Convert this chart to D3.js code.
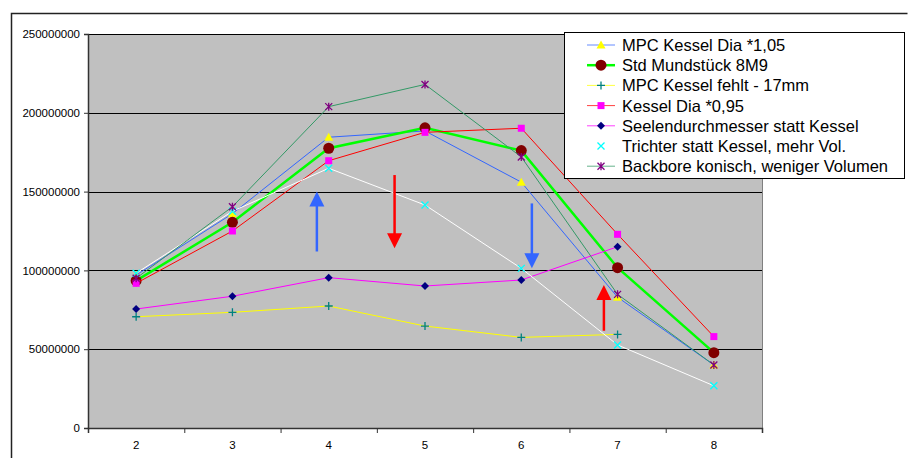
<!DOCTYPE html>
<html>
<head>
<meta charset="utf-8">
<script src="https://cdn.jsdelivr.net/npm/d3@7"></script>
<style>
body { margin: 0; background: #fff; }
svg { display: block; font-family: Arial, "Liberation Sans", sans-serif; }
</style>
</head>
<body>
<div id="chart"></div>
<script>
var categories = ['2', '3', '4', '5', '6', '7', '8'];
var yTicks = [0, 50000000, 100000000, 150000000, 200000000, 250000000];

var seriesNames = [
    'MPC Kessel Dia *1,05',
    'Std Mundstück 8M9',
    'MPC Kessel fehlt - 17mm',
    'Kessel Dia *0,95',
    'Seelendurchmesser statt Kessel',
    'Trichter statt Kessel, mehr Vol.',
    'Backbore konisch, weniger Volumen'
];

var mpcDia105 = [97000000, 136000000, 184500000, 188500000, 156000000, 83000000, 40000000];
var stdMundstueck = [93500000, 130500000, 177500000, 190500000, 176000000, 101700000, 47800000];
var mpcFehlt = [70600000, 73400000, 77400000, 64700000, 57500000, 59400000, null];
var kesselDia095 = [91800000, 125000000, 169600000, 187600000, 190200000, 122900000, 58000000];
var seelen = [75500000, 83600000, 95400000, 90100000, 93900000, 115000000, null];
var trichter = [98200000, 137500000, 164800000, 141500000, 101300000, 52700000, 26800000];
var backbore = [95000000, 140400000, 203900000, 218000000, 172000000, 84800000, 40000000];

// arrows: position in category units, start and end value
var arrows = [
    { x: 3.877, from: 112000000, to: 150000000, color: '#3366ff' },
    { x: 4.684, from: 160500000, to: 114000000, color: '#ff0000' },
    { x: 6.11, from: 142500000, to: 101300000, color: '#3366ff' },
    { x: 6.858, from: 61700000, to: 90700000, color: '#ff0000' }
];

var styles = [
    { line: '#3366ff', width: 1, marker: 'triangle', fill: '#ffff00' },
    { line: '#00ff00', width: 2.5, marker: 'circle', fill: '#800000' },
    { line: '#ffff00', width: 1, marker: 'plus', fill: '#008080' },
    { line: '#ff0000', width: 1, marker: 'square', fill: '#ff00ff' },
    { line: '#ff00ff', width: 1, marker: 'diamond', fill: '#000080' },
    { line: '#ffffff', width: 1, marker: 'cross', fill: '#00ffff' },
    { line: '#339966', width: 1, marker: 'star', fill: '#800080' }
];

var W = 909, H = 458;
var plot = { left: 88, right: 762, top: 34, bottom: 428 };

var svg = d3.select('#chart').append('svg').attr('width', W).attr('height', H);

// outer chart frame
svg.append('path')
    .attr('d', 'M11.5,' + H + 'V13.5H907.5')
    .attr('fill', 'none').attr('stroke', '#222').attr('stroke-width', 1.5);

var x = d3.scaleBand().domain(categories).range([plot.left, plot.right]);
var xl = d3.scaleLinear().domain([1.5, 8.5]).range([plot.left, plot.right]);
var y = d3.scaleLinear().domain([0, 250000000]).range([plot.bottom, plot.top]);

svg.append('rect')
    .attr('x', plot.left).attr('y', plot.top)
    .attr('width', plot.right - plot.left).attr('height', plot.bottom - plot.top)
    .attr('fill', '#c0c0c0');

svg.append('line')
    .attr('x1', plot.right + 0.5).attr('x2', plot.right + 0.5)
    .attr('y1', plot.top).attr('y2', plot.bottom)
    .attr('stroke', '#808080');

svg.append('g').selectAll('line').data(yTicks.slice(1)).enter().append('line')
    .attr('x1', plot.left).attr('x2', plot.right)
    .attr('y1', function(d) { return Math.round(y(d)) + 0.5; })
    .attr('y2', function(d) { return Math.round(y(d)) + 0.5; })
    .attr('stroke', '#000').attr('stroke-width', 1);

var yAxis = svg.append('g')
    .attr('transform', 'translate(' + plot.left + ',0)')
    .call(d3.axisLeft(y).tickValues(yTicks).tickSize(4).tickPadding(4).tickFormat(d3.format('d')));
yAxis.select('.domain').attr('stroke', '#333').attr('stroke-width', 1.5);

var xAxis = svg.append('g')
    .attr('transform', 'translate(0,' + plot.bottom + ')')
    .call(d3.axisBottom(xl).tickValues(d3.range(1.5, 8.6, 1)).tickSize(5).tickFormat(''));
xAxis.select('.domain').attr('stroke', '#333').attr('stroke-width', 1.5);

svg.append('g').selectAll('text').data(categories).enter().append('text')
    .attr('x', function(d) { return x(d) + x.bandwidth() / 2; })
    .attr('y', plot.bottom + 21)
    .attr('text-anchor', 'middle')
    .attr('font-size', 11.5)
    .text(function(d) { return d; });

svg.selectAll('.tick line').attr('stroke', '#333');
yAxis.selectAll('text').attr('font-size', 11.5).attr('fill', '#000').attr('font-family', 'Arial, "Liberation Sans", sans-serif');

var allSeries = [mpcDia105, stdMundstueck, mpcFehlt, kesselDia095, seelen, trichter, backbore];

function drawMarker(g, type, fill, cx, cy) {
    if (type == 'circle') {
        g.append('circle').attr('cx', cx).attr('cy', cy).attr('r', 5.5).attr('fill', fill);
    } else if (type == 'square') {
        g.append('rect').attr('x', cx - 3.5).attr('y', cy - 3.5).attr('width', 7).attr('height', 7).attr('fill', fill);
    } else if (type == 'triangle') {
        g.append('path').attr('d', 'M' + cx + ',' + (cy - 4.5) + 'L' + (cx + 4.5) + ',' + (cy + 3.5) + 'L' + (cx - 4.5) + ',' + (cy + 3.5) + 'Z').attr('fill', fill);
    } else if (type == 'diamond') {
        g.append('path').attr('d', 'M' + cx + ',' + (cy - 4) + 'L' + (cx + 4) + ',' + cy + 'L' + cx + ',' + (cy + 4) + 'L' + (cx - 4) + ',' + cy + 'Z').attr('fill', fill);
    } else if (type == 'plus') {
        g.append('path').attr('d', 'M' + (cx - 4) + ',' + cy + 'H' + (cx + 4) + 'M' + cx + ',' + (cy - 4) + 'V' + (cy + 4)).attr('stroke', fill).attr('stroke-width', 1.3);
    } else if (type == 'cross') {
        g.append('path').attr('d', 'M' + (cx - 3.5) + ',' + (cy - 3.5) + 'L' + (cx + 3.5) + ',' + (cy + 3.5) + 'M' + (cx + 3.5) + ',' + (cy - 3.5) + 'L' + (cx - 3.5) + ',' + (cy + 3.5)).attr('stroke', fill).attr('stroke-width', 1.3);
    } else if (type == 'star') {
        g.append('path').attr('d', 'M' + (cx - 3.5) + ',' + (cy - 3.5) + 'L' + (cx + 3.5) + ',' + (cy + 3.5) + 'M' + (cx + 3.5) + ',' + (cy - 3.5) + 'L' + (cx - 3.5) + ',' + (cy + 3.5) + 'M' + cx + ',' + (cy - 4) + 'V' + (cy + 4)).attr('stroke', fill).attr('stroke-width', 1.3);
    }
}

var line = d3.line()
    .defined(function(d) { return d.v != null; })
    .x(function(d) { return x(d.c) + x.bandwidth() / 2; })
    .y(function(d) { return y(d.v); });

allSeries.forEach(function(vals, i) {
    var st = styles[i];
    var pts = vals.map(function(v, j) { return { c: categories[j], v: v }; });
    var g = svg.append('g');
    g.append('path').datum(pts).attr('d', line)
        .attr('fill', 'none').attr('stroke', st.line).attr('stroke-width', st.width);
    pts.forEach(function(p) {
        if (p.v == null) return;
        drawMarker(g, st.marker, st.fill, x(p.c) + x.bandwidth() / 2, y(p.v));
    });
});

// annotation arrows
arrows.forEach(function(a) {
    var ax = xl(a.x), y0 = y(a.from), y1 = y(a.to);
    var dir = y1 < y0 ? 1 : -1;
    svg.append('line')
        .attr('x1', ax).attr('x2', ax).attr('y1', y0).attr('y2', y1 + dir * 14)
        .attr('stroke', a.color).attr('stroke-width', 2.5);
    svg.append('path')
        .attr('d', 'M' + ax + ',' + y1 + 'L' + (ax + 7.5) + ',' + (y1 + dir * 15) + 'L' + (ax - 7.5) + ',' + (y1 + dir * 15) + 'Z')
        .attr('fill', a.color);
});

// legend
var leg = svg.append('g');
leg.append('rect').attr('x', 564.5).attr('y', 32.5).attr('width', 340).attr('height', 146)
    .attr('fill', '#fff').attr('stroke', '#000').attr('stroke-width', 1);

seriesNames.forEach(function(name, i) {
    var st = styles[i];
    var cy = 45 + i * 20.2;
    var g = leg.append('g');
    if (st.line != '#ffffff') {
        g.append('line').attr('x1', 587).attr('x2', 615).attr('y1', cy).attr('y2', cy)
            .attr('stroke', st.line).attr('stroke-width', st.width).attr('stroke-opacity', st.width > 1 ? 1 : 0.75);
    }
    drawMarker(g, st.marker, st.fill, 601, cy);
    g.append('text').attr('x', 622).attr('y', cy + 6).attr('font-size', 16.5).text(name);
});
</script>
</body>
</html>
